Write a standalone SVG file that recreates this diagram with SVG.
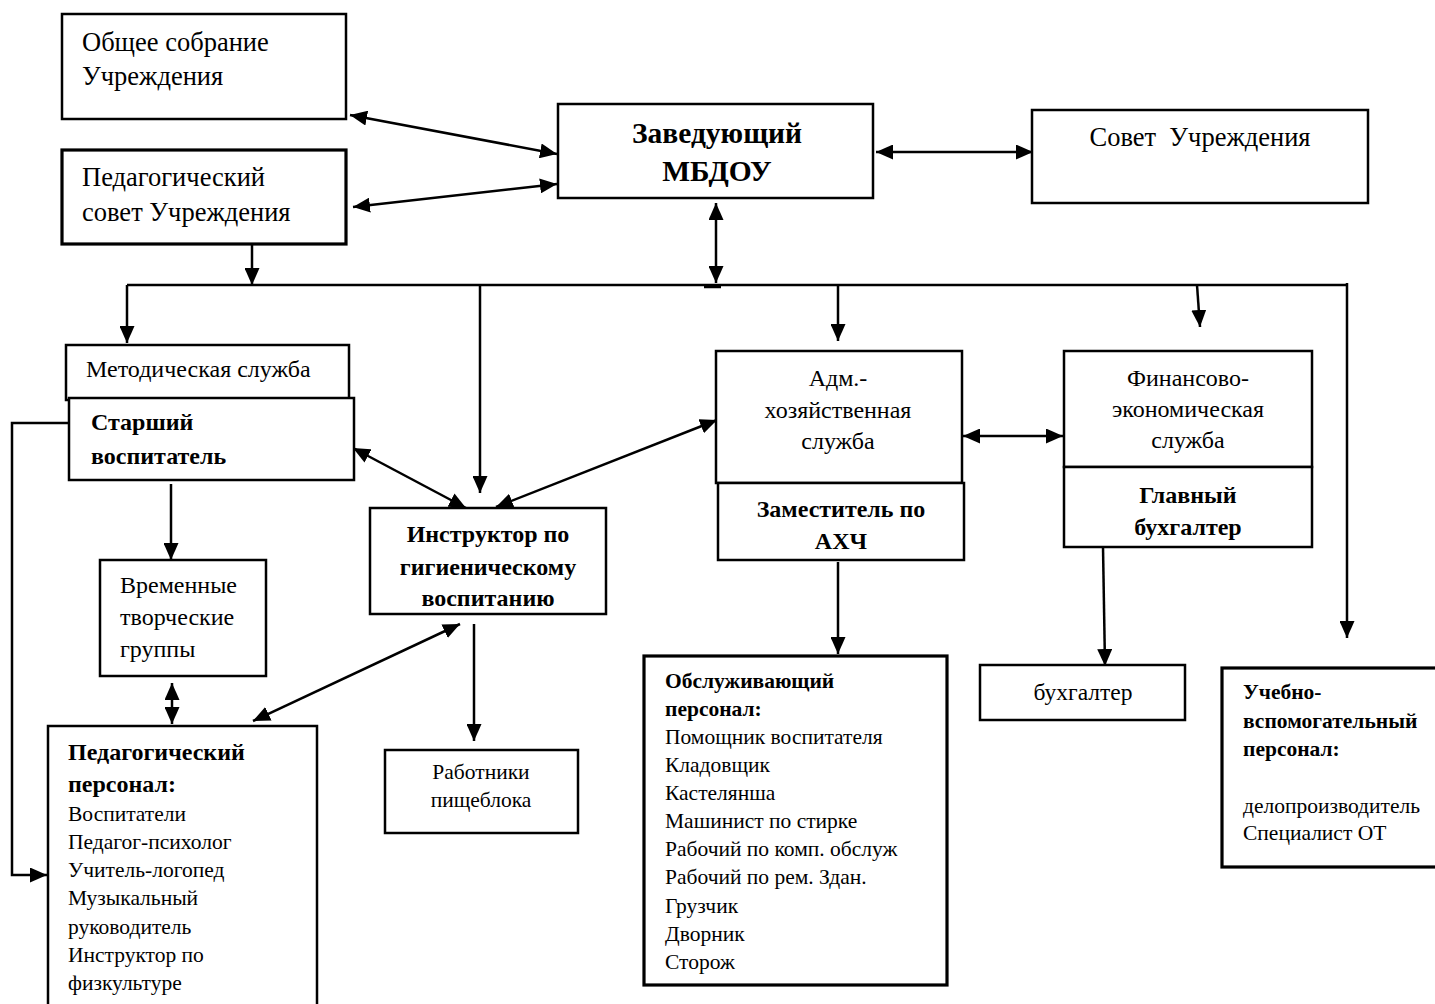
<svg xmlns="http://www.w3.org/2000/svg" width="1435" height="1004" viewBox="0 0 1435 1004">
<style>
.box{fill:#fff;stroke:#000;stroke-width:2.5}
.thick{stroke-width:3.2}
.t{font-family:"Liberation Serif","Times New Roman",serif;fill:#000}
.top{font-size:26.5px}
.mid{font-size:24px}
.sm{font-size:21.5px}
.b{font-weight:bold}
.c{text-anchor:middle}
.ln{fill:none;stroke:#000;stroke-width:2.5}
</style>
<defs>
<marker id="ah" viewBox="0 0 17 15" markerUnits="userSpaceOnUse" markerWidth="17" markerHeight="15" refX="17" refY="7.5" orient="auto-start-reverse">
<path d="M0,0 L17,7.5 L0,15 z" fill="#000"/>
</marker>
</defs>

<g id="connectors">
<line class="ln" x1="350" y1="115" x2="557" y2="154" marker-start="url(#ah)" marker-end="url(#ah)"/>
<line class="ln" x1="353" y1="207" x2="557" y2="184" marker-start="url(#ah)" marker-end="url(#ah)"/>
<line class="ln" x1="876" y1="152" x2="1033" y2="152" marker-start="url(#ah)" marker-end="url(#ah)"/>
<line class="ln" x1="716" y1="203" x2="716" y2="283" marker-start="url(#ah)" marker-end="url(#ah)"/>
<line class="ln" x1="252" y1="244" x2="252" y2="285" marker-end="url(#ah)"/>
<line class="ln" x1="127" y1="285" x2="1347" y2="285"/>
<line x1="704" y1="286.5" x2="721" y2="286.5" stroke="#000" stroke-width="3.5"/>
<line class="ln" x1="127" y1="285" x2="127" y2="343" marker-end="url(#ah)"/>
<line class="ln" x1="480" y1="285" x2="480" y2="493" marker-end="url(#ah)"/>
<line class="ln" x1="838" y1="285" x2="838" y2="341" marker-end="url(#ah)"/>
<line class="ln" x1="1197" y1="285" x2="1200" y2="327" marker-end="url(#ah)"/>
<line class="ln" x1="1347" y1="283" x2="1347" y2="638" marker-end="url(#ah)"/>
<line class="ln" x1="353" y1="448" x2="466" y2="508" marker-start="url(#ah)" marker-end="url(#ah)"/>
<line class="ln" x1="496" y1="507" x2="717" y2="420" marker-start="url(#ah)" marker-end="url(#ah)"/>
<line class="ln" x1="963" y1="436" x2="1063" y2="436" marker-start="url(#ah)" marker-end="url(#ah)"/>
<line class="ln" x1="171" y1="484" x2="171" y2="560" marker-end="url(#ah)"/>
<line class="ln" x1="172" y1="683" x2="172" y2="724" marker-start="url(#ah)" marker-end="url(#ah)"/>
<line class="ln" x1="460" y1="624" x2="253" y2="721" marker-start="url(#ah)" marker-end="url(#ah)"/>
<line class="ln" x1="474" y1="624" x2="474" y2="741" marker-end="url(#ah)"/>
<line class="ln" x1="838" y1="562" x2="838" y2="654" marker-end="url(#ah)"/>
<line class="ln" x1="1103" y1="547" x2="1105" y2="666" marker-end="url(#ah)"/>
<path class="ln" d="M69,423 L12,423 L12,875 L47,875" marker-end="url(#ah)"/>
</g>

<g id="obshchee">
<rect class="box" x="62" y="14" width="284" height="105"/>
<text class="t top" x="82" y="51">Общее собрание</text>
<text class="t top" x="82" y="85">Учреждения</text>
</g>

<g id="pedsovet">
<rect class="box thick" x="62" y="150" width="284" height="94"/>
<text class="t top" x="82" y="186">Педагогический</text>
<text class="t top" x="82" y="221">совет Учреждения</text>
</g>

<g id="zaveduyushchiy">
<rect class="box" x="558" y="104" width="315" height="94"/>
<text class="t b c" style="font-size:29.5px" x="717" y="143">Заведующий</text>
<text class="t b c" style="font-size:29.5px" x="717" y="181">МБДОУ</text>
</g>

<g id="sovet">
<rect class="box" x="1032" y="110" width="336" height="93"/>
<text class="t top c" x="1200" y="146" xml:space="preserve">Совет  Учреждения</text>
</g>

<g id="metod">
<rect class="box" x="66" y="345" width="283" height="55"/>
<text class="t mid" x="86" y="377">Методическая служба</text>
</g>

<g id="starshiy">
<rect class="box" x="69" y="398" width="285" height="82"/>
<text class="t mid b" x="91" y="430">Старший</text>
<text class="t mid b" x="91" y="464">воспитатель</text>
</g>

<g id="instruktor">
<rect class="box" x="370" y="508" width="236" height="106"/>
<text class="t mid b c" x="488" y="542">Инструктор по</text>
<text class="t mid b c" x="488" y="575">гигиеническому</text>
<text class="t mid b c" x="488" y="606">воспитанию</text>
</g>

<g id="vremennye">
<rect class="box" x="100" y="560" width="166" height="116"/>
<text class="t mid" x="120" y="593">Временные</text>
<text class="t mid" x="120" y="625">творческие</text>
<text class="t mid" x="120" y="657">группы</text>
</g>

<g id="pedpersonal">
<rect class="box" x="48" y="726" width="269" height="290"/>
<text class="t mid b" x="68" y="760">Педагогический</text>
<text class="t mid b" x="68" y="792">персонал:</text>
<text class="t sm" x="68" y="821">Воспитатели</text>
<text class="t sm" x="68" y="849">Педагог-психолог</text>
<text class="t sm" x="68" y="877">Учитель-логопед</text>
<text class="t sm" x="68" y="905">Музыкальный</text>
<text class="t sm" x="68" y="934">руководитель</text>
<text class="t sm" x="68" y="962">Инструктор по</text>
<text class="t sm" x="68" y="990">физкультуре</text>
</g>

<g id="pishcheblok">
<rect class="box" x="385" y="750" width="193" height="83"/>
<text class="t sm c" x="481" y="779">Работники</text>
<text class="t sm c" x="481" y="807">пищеблока</text>
</g>

<g id="adm">
<rect class="box" x="716" y="351" width="246" height="132"/>
<text class="t mid c" x="838" y="386">Адм.-</text>
<text class="t mid c" x="838" y="418">хозяйственная</text>
<text class="t mid c" x="838" y="449">служба</text>
</g>

<g id="zamestitel">
<rect class="box" x="718" y="483" width="246" height="77"/>
<text class="t mid b c" x="841" y="517">Заместитель по</text>
<text class="t mid b c" x="841" y="549">АХЧ</text>
</g>

<g id="finans">
<rect class="box" x="1064" y="351" width="248" height="116"/>
<text class="t mid c" x="1188" y="386">Финансово-</text>
<text class="t mid c" x="1188" y="417">экономическая</text>
<text class="t mid c" x="1188" y="448">служба</text>
</g>

<g id="glavbuh">
<rect class="box" x="1064" y="467" width="248" height="80"/>
<text class="t mid b c" x="1188" y="503">Главный</text>
<text class="t mid b c" x="1188" y="535">бухгалтер</text>
</g>

<g id="obsluzh">
<rect class="box thick" x="644" y="656" width="303" height="329"/>
<text class="t sm b" x="665" y="688">Обслуживающий</text>
<text class="t sm b" x="665" y="716">персонал:</text>
<text class="t sm" x="665" y="744">Помощник воспитателя</text>
<text class="t sm" x="665" y="772">Кладовщик</text>
<text class="t sm" x="665" y="800">Кастелянша</text>
<text class="t sm" x="665" y="828">Машинист по стирке</text>
<text class="t sm" x="665" y="856">Рабочий по комп. обслуж</text>
<text class="t sm" x="665" y="884">Рабочий по рем. Здан.</text>
<text class="t sm" x="665" y="913">Грузчик</text>
<text class="t sm" x="665" y="941">Дворник</text>
<text class="t sm" x="665" y="969">Сторож</text>
</g>

<g id="buhgalter">
<rect class="box" x="980" y="665" width="205" height="55"/>
<text class="t c" style="font-size:23.5px" x="1083" y="700">бухгалтер</text>
</g>

<g id="uchebno">
<rect class="box thick" x="1222" y="668" width="230" height="199"/>
<text class="t sm b" x="1243" y="699">Учебно-</text>
<text class="t sm b" x="1243" y="728">вспомогательный</text>
<text class="t sm b" x="1243" y="756">персонал:</text>
<text class="t sm" x="1243" y="813">делопроизводитель</text>
<text class="t sm" x="1243" y="840">Специалист ОТ</text>
</g>
</svg>
